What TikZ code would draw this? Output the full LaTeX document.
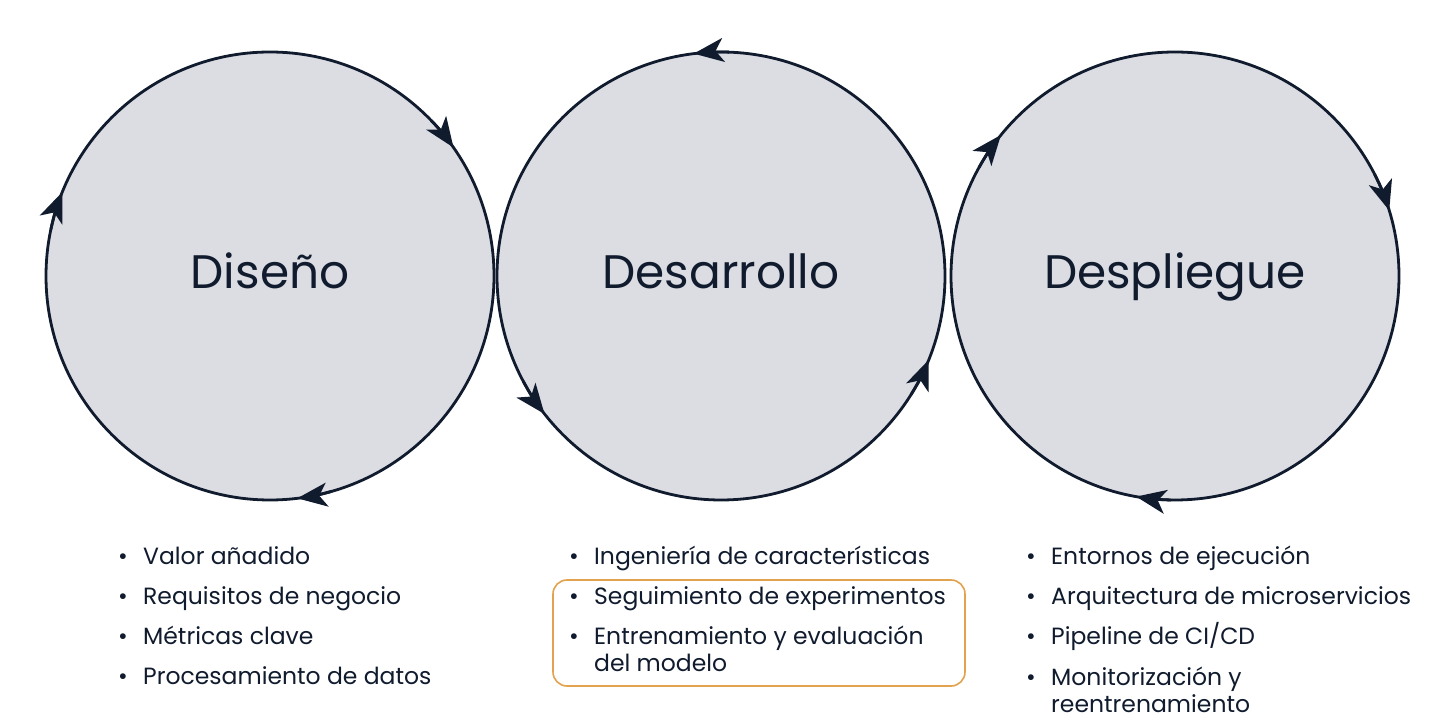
\documentclass[tikz,border=0pt]{standalone}
\usepackage{fontspec}
\setmainfont{Poppins}
\usetikzlibrary{arrows.meta}
\definecolor{ink}{HTML}{101B2E}
\definecolor{disc}{HTML}{DCDCE3}
\definecolor{hl}{HTML}{E3A24E}
\begin{document}
\begin{tikzpicture}[x=1pt,y=1pt,
  circ/.style={draw=ink,line width=2.8pt,fill=disc},
  arr/.style={draw=ink,line width=2.8pt,-{Stealth[length=30pt,width=24pt,inset=8pt]}},
  title/.style={font=\fontsize{47}{52}\selectfont,text=ink,anchor=base},
  item/.style={font=\fontsize{23.5}{27}\selectfont,text=ink,anchor=base west,align=left,inner sep=0pt}]
\useasboundingbox[fill=white] (0,0) rectangle (1440,720);
\def\r{224}
\node[circ,circle,minimum size=448pt,inner sep=0pt] (c1) at (270,444) {};
\node[circ,circle,minimum size=448pt,inner sep=0pt] (c2) at (721,444) {};
\node[circ,circle,minimum size=448pt,inner sep=0pt] (c3) at (1175,444) {};
% Diseño clockwise
\draw[arr] (c1.center) ++(44:\r) arc(44:35:\r);
\draw[arr] (c1.center) ++(-74:\r) arc(-74:-83:\r);
\draw[arr] (c1.center) ++(168:\r) arc(168:158:\r);
% Desarrollo counterclockwise
\draw[arr] (c2.center) ++(88:\r) arc(88:97:\r);
\draw[arr] (c2.center) ++(208:\r) arc(208:218:\r);
\draw[arr] (c2.center) ++(-32:\r) arc(-32:-22:\r);
% Despliegue clockwise
\draw[arr] (c3.center) ++(151:\r) arc(151:141:\r);
\draw[arr] (c3.center) ++(27:\r) arc(27:17:\r);
\draw[arr] (c3.center) ++(-91:\r) arc(-91:-100:\r);
\node[title] (t1) at (270,431) {Diseño};
\node[title] (t2) at (721,431) {Desarrollo};
\node[title] (t3) at (1175,431) {Despliegue};
\def\b{\makebox[25pt][l]{•}}
\node[item] (a1) at (118,155) {\b Valor añadido};
\node[item] (a2) at (118,115) {\b Requisitos de negocio};
\node[item] (a3) at (118,75) {\b Métricas clave};
\node[item] (a4) at (118,35) {\b Procesamiento de datos};
\node[item] (b1) at (569,155) {\b Ingeniería de características};
\node[item] (b2) at (569,115) {\b Seguimiento de experimentos};
\node[item] (b3) at (569,48) {\b Entrenamiento y evaluación\\\hspace*{25pt}del modelo};
\node[item] (d1) at (1026,155) {\b Entornos de ejecución};
\node[item] (d2) at (1026,115) {\b Arquitectura de microservicios};
\node[item] (d3) at (1026,75) {\b Pipeline de CI/CD};
\node[item] (d4) at (1026,8) {\b Monitorización y\\\hspace*{25pt}reentrenamiento};
\draw[hl,line width=1.6pt,rounded corners=14pt] (553,34) rectangle (965,140);
\end{tikzpicture}
\end{document}
